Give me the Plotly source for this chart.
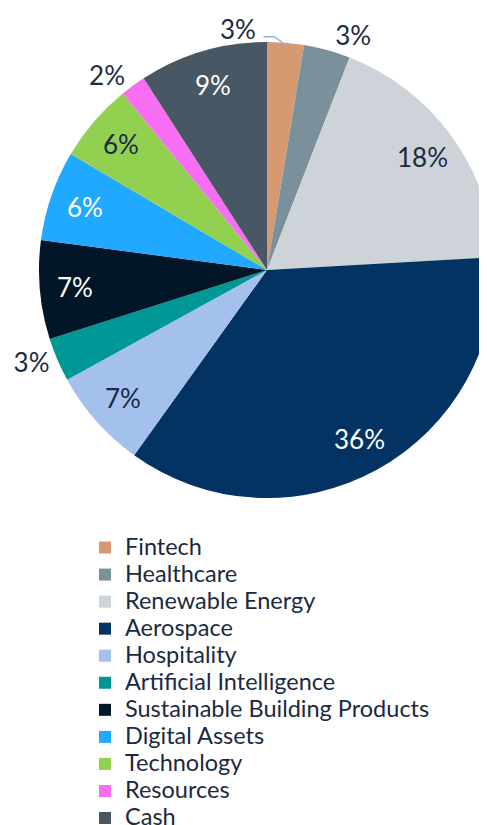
import math
import plotly.graph_objects as go

categories = ["Fintech", "Healthcare", "Renewable Energy", "Aerospace", "Hospitality",
              "Artificial Intelligence", "Sustainable Building Products", "Digital Assets",
              "Technology", "Resources", "Cash"]
values = [2.6, 3.3, 18.2, 35.8, 7.1, 3.1, 7.0, 6.4, 5.6, 1.8, 9.1]
colors = ["#D69A73", "#7A909B", "#CDD3D8", "#033363", "#A4C0EC", "#009896",
          "#021628", "#21A8FF", "#92D050", "#F76EF5", "#475763"]
# where each percentage label goes: inside the slice, outside (library), or leader (with connector)
label_mode = ["leader", "outside", "inside", "inside", "inside", "outside",
              "inside", "inside", "inside", "outside", "inside"]
text_colors = ["#1B2A41", "#1B2A41", "#1B2A41", "#FFFFFF", "#1B2A41", "#1B2A41",
               "#FFFFFF", "#FFFFFF", "#1B2A41", "#1B2A41", "#FFFFFF"]

# page body has an 8px margin; figure coordinates below are relative to the figure
W, H = 500, 829
cx, cy, r = 259, 262, 228
INSIDE_K = 0.845
LABEL_FONT = dict(family="Lato", size=26)
DARK = "#1B2A41"
LEADER_COLOR = "#8CB4E8"


def to_paper(px, py):
    return px / W, 1 - py / H


legend_labels = ['<span style="font-size:23.5px">%s</span>' % c for c in categories]
text_pos = ["outside" if m == "outside" else "none" for m in label_mode]

fig = go.Figure(go.Pie(
    labels=legend_labels, values=values, sort=False, direction="clockwise", rotation=0,
    marker=dict(colors=colors, line=dict(width=0)),
    texttemplate="%{percent:.0%}", textposition=text_pos,
    outsidetextfont=dict(color=DARK, **LABEL_FONT),
    domain=dict(x=[(cx - r) / W, (cx + r) / W], y=[1 - (cy + r) / H, 1 - (cy - r) / H]),
    automargin=False,
    hoverinfo="percent",
))

total = sum(values)
cum = 0.0
for v, mode, tcol in zip(values, label_mode, text_colors):
    mid = (cum + v / 2) / total * 2 * math.pi
    cum += v
    txt = "%d%%" % round(v / total * 100)
    if mode == "inside":
        x, y = to_paper(cx + INSIDE_K * r * math.sin(mid), cy - INSIDE_K * r * math.cos(mid))
        fig.add_annotation(x=x, y=y, xref="paper", yref="paper", xanchor="center",
                           yanchor="middle", text=txt, showarrow=False,
                           font=dict(color=tcol, **LABEL_FONT))
    elif mode == "leader":
        tip = (cx + (r - 2) * math.sin(mid), cy - (r - 2) * math.cos(mid))
        bend = (tip[0] - 11, tip[1] - 8)
        end = (bend[0] - 11, bend[1])
        pts = [to_paper(*p) for p in (tip, bend, end)]
        path = "M %f %f L %f %f L %f %f" % (pts[0][0], pts[0][1], pts[1][0], pts[1][1],
                                             pts[2][0], pts[2][1])
        fig.add_shape(type="path", path=path, xref="paper", yref="paper",
                      line=dict(color=LEADER_COLOR, width=1.5))
        x, y = to_paper(end[0] - 5, end[1] - 8)
        fig.add_annotation(x=x, y=y, xref="paper", yref="paper", xanchor="right",
                           yanchor="middle", text=txt, showarrow=False,
                           font=dict(color=tcol, **LABEL_FONT))

fig.update_layout(
    width=W, height=H, margin=dict(l=0, r=0, t=0, b=0, autoexpand=False),
    paper_bgcolor="white", font=dict(family="Lato", color=DARK),
    showlegend=True,
    legend=dict(x=77 / W, xanchor="left", y=0, yanchor="bottom",
                font=dict(size=18.5, color=DARK), tracegroupgap=0,
                traceorder="normal", borderwidth=0),
)
fig.write_html("out.html")
